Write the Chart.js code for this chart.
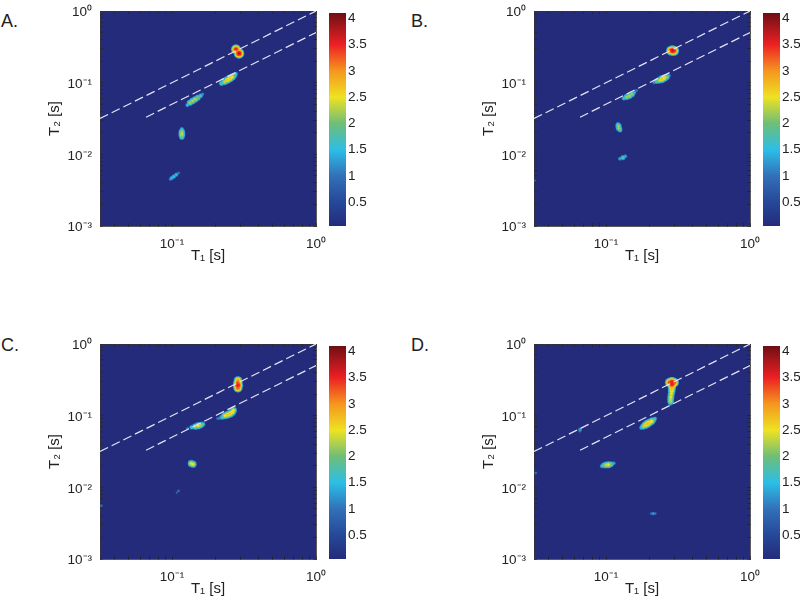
<!DOCTYPE html>
<html>
<head>
<meta charset="utf-8">
<style>
    html, body { margin: 0; padding: 0; background: #fff; width: 800px; height: 602px; overflow: hidden; }
    canvas { position: absolute; }
    .tag { position: absolute; font: 18px "Liberation Sans", sans-serif; color: #222; }
</style>
<script src="https://cdn.jsdelivr.net/npm/chart.js@4"></script>
</head>
<body>
<div class="tag" style="left:1px;top:11px">A.</div>
<div class="tag" style="left:411px;top:11px">B.</div>
<div class="tag" style="left:1px;top:335px">C.</div>
<div class="tag" style="left:411px;top:335px">D.</div>
<script>
// 轴刻度
const xTickValues = [0.1, 1];
const xTickLabels = ['10⁻¹', '10⁰'];
const xMinorTicks = [0.04, 0.05, 0.06, 0.07, 0.08, 0.09, 0.2, 0.3, 0.4, 0.5, 0.6, 0.7, 0.8, 0.9];
const yTickValues = [0.001, 0.01, 0.1, 1];
const yTickLabels = ['10⁻³', '10⁻²', '10⁻¹', '10⁰'];
const yMinorTicks = [0.002, 0.003, 0.004, 0.005, 0.006, 0.007, 0.008, 0.009,
    0.02, 0.03, 0.04, 0.05, 0.06, 0.07, 0.08, 0.09,
    0.2, 0.3, 0.4, 0.5, 0.6, 0.7, 0.8, 0.9];

// 色标
const colorbarTicks = [0.5, 1, 1.5, 2, 2.5, 3, 3.5, 4];
const colorbarLabels = ['0.5', '1', '1.5', '2', '2.5', '3', '3.5', '4'];
const colorStops = [0.05, 0.5, 1, 1.5, 2, 2.5, 3, 3.5, 4.1];
const colorRgb = [[36, 43, 122], [38, 72, 152], [50, 112, 185], [44, 190, 230], [110, 190, 120],
    [238, 226, 34], [245, 150, 30], [237, 32, 36], [110, 15, 20]];
const contourLevels = [0.75, 1, 1.25, 1.5, 1.75, 2, 2.25, 2.5, 2.75, 3, 3.25, 3.5, 3.75, 4];

// 虚线 T2 = T1, T2 = T1/2
const upperLineT1 = [0.0316, 1];
const upperLineT2 = [0.0316, 1];
const lowerLineT1 = [0.066, 1];
const lowerLineT2 = [0.033, 0.5];

// 各子图的峰 (T1, T2, 幅值)
const t1A = [0.278, 0.292, 0.221, 0.232, 0.242, 0.252, 0.262, 0.270, 0.278,
    0.128, 0.133, 0.139, 0.145, 0.151, 0.158, 0.163,
    0.117, 0.117, 0.117, 0.117, 0.117, 0.0975, 0.0995, 0.103, 0.107, 0.111];
const t2A = [0.292, 0.256, 0.098, 0.103, 0.109, 0.114, 0.120, 0.126, 0.132,
    0.0488, 0.0526, 0.0555, 0.0585, 0.0618, 0.0655, 0.069,
    0.0173, 0.0185, 0.0196, 0.0208, 0.0225, 0.0045, 0.00468, 0.0049, 0.0052, 0.0055];
const valuesA = [3.6, 3.8, 2.0, 2.5, 2.8, 2.8, 2.6, 2.2, 1.6,
    1.6, 2.3, 2.4, 2.4, 2.2, 1.8, 1.3,
    2.0, 2.4, 2.5, 2.3, 1.6, 1.3, 1.6, 1.7, 1.6, 1.2];

const t1B = [0.283, 0.290, 0.297, 0.215, 0.225, 0.235, 0.244, 0.254, 0.264, 0.274,
    0.133, 0.139, 0.145, 0.151, 0.157, 0.163,
    0.121, 0.122, 0.123, 0.125, 0.125, 0.131, 0.136, 0.032];
const t2B = [0.280, 0.280, 0.278, 0.1, 0.105, 0.108, 0.112, 0.116, 0.120, 0.125,
    0.0605, 0.063, 0.0655, 0.0687, 0.073, 0.078,
    0.0262, 0.0248, 0.0232, 0.0219, 0.0087, 0.00897, 0.00937, 0.0043];
const valuesB = [3.6, 3.8, 3.6, 1.3, 2.1, 2.5, 2.8, 2.7, 2.3, 1.4,
    1.7, 2.3, 2.4, 2.3, 1.6, 1.2,
    1.7, 2.3, 2.3, 1.9, 1.5, 1.9, 1.5, 1.0];

const t1C = [0.287, 0.287, 0.287, 0.287, 0.208, 0.215, 0.224, 0.233, 0.243, 0.253, 0.262, 0.267,
    0.128, 0.137, 0.145, 0.152, 0.158, 0.163, 0.136, 0.14, 0.111, 0.108, 0.0323];
const t2C = [0.31, 0.285, 0.265, 0.245, 0.0915, 0.0926, 0.096, 0.1, 0.103, 0.1067, 0.112, 0.1186,
    0.0665, 0.0687, 0.0705, 0.0724, 0.074, 0.0757, 0.0215, 0.021, 0.0089, 0.00843, 0.00555];
const valuesC = [3.1, 3.5, 3.7, 3.4, 1.2, 1.4, 2.0, 2.6, 2.8, 2.8, 2.7, 2.6,
    1.2, 1.8, 2.4, 2.6, 2.4, 2.0, 2.6, 2.6, 1.1, 1.0, 1.1];

const t1D = [0.277, 0.287, 0.297, 0.287, 0.287, 0.286, 0.286, 0.284, 0.282, 0.281, 0.281, 0.281,
    0.176, 0.182, 0.188, 0.194, 0.2, 0.207, 0.213, 0.219,
    0.0935, 0.0968, 0.1, 0.104, 0.108, 0.113, 0.0659, 0.0659, 0.206, 0.213, 0.22, 0.0325];
const t2D = [0.29, 0.295, 0.29, 0.275, 0.248, 0.23, 0.219, 0.2, 0.182, 0.168, 0.158, 0.15,
    0.068, 0.071, 0.074, 0.0773, 0.08, 0.0834, 0.087, 0.0908,
    0.0198, 0.0203, 0.0205, 0.0207, 0.021, 0.0216, 0.0638, 0.0605, 0.0043, 0.0043, 0.0043, 0.0158];
const valuesD = [3.5, 3.7, 3.5, 3.7, 3.0, 2.8, 2.7, 2.6, 2.6, 2.5, 2.4, 1.9,
    1.7, 2.4, 2.8, 2.9, 2.8, 2.7, 2.2, 1.6,
    1.6, 2.2, 2.5, 2.6, 2.2, 1.5, 1.5, 1.1, 1.1, 1.4, 1.1, 1.1];

const FONT = { family: '"Liberation Sans", Arial, sans-serif', size: 13.5 };
const INK = '#222';

function colorFor(v) {
    let i = 0;
    while (i < colorStops.length - 2 && v > colorStops[i + 1]) i++;
    const f = Math.min(1, Math.max(0, (v - colorStops[i]) / (colorStops[i + 1] - colorStops[i])));
    const a = colorRgb[i], b = colorRgb[i + 1];
    return 'rgb(' + [0, 1, 2].map(k => Math.round(a[k] + (b[k] - a[k]) * f)).join(',') + ')';
}

function addCanvas(left, top, width, height) {
    const canvas = document.createElement('canvas');
    canvas.width = width;
    canvas.height = height;
    canvas.style.left = left + 'px';
    canvas.style.top = top + 'px';
    document.body.appendChild(canvas);
    return canvas;
}

function logAxis(position, values, minor, labels, min, max, title) {
    const horizontal = position === 'top' || position === 'bottom';
    const mirror = position === 'top' || position === 'right';
    return {
        type: 'logarithmic',
        position: position,
        min: min,
        max: max,
        border: { display: true, color: '#333', width: 0.8 },
        grid: { drawOnChartArea: false, drawTicks: true, tickLength: -3, tickColor: '#222', tickWidth: 0.7 },
        ticks: {
            display: !mirror,
            autoSkip: false,
            maxRotation: 0,
            padding: horizontal ? 13 : 11,
            labelOffset: horizontal ? 0 : 1.5,
            color: INK,
            font: FONT,
            callback: function (v) {
                const i = values.findIndex(t => Math.abs(t - v) < t * 1e-6);
                return i >= 0 ? labels[i] : '';
            },
        },
        title: title ? { display: true, text: title, color: INK, font: { family: FONT.family, size: 15 }, padding: horizontal ? { top: 1 } : { top: 16 } } : { display: false },
        afterBuildTicks: function (scale) {
            scale.ticks = values.concat(minor).sort((a, b) => a - b).map(v => ({ value: v }));
        },
        afterFit: function (scale) {
            if (horizontal) scale.height = mirror ? 0 : 43;
            else scale.width = mirror ? 0 : 70;
            // 标签溢出不再挤压绘图区
            scale.paddingLeft = scale.paddingRight = scale.paddingTop = scale.paddingBottom = 0;
        },
    };
}

const plotBackground = {
    id: 'plotBackground',
    beforeDraw: function (chart) {
        const a = chart.chartArea;
        chart.ctx.save();
        chart.ctx.fillStyle = colorFor(0.05);
        chart.ctx.fillRect(a.left, a.top, a.width, a.height);
        chart.ctx.restore();
    },
};

function dashedLine(xs, ys) {
    return {
        data: xs.map((x, i) => ({ x: x, y: ys[i] })),
        showLine: true,
        borderColor: '#e4e4f4',
        borderWidth: 1.2,
        borderDash: [9, 4],
        pointRadius: 0,
    };
}

// 圆顶形截面,等值层半径随幅值增大
function contourRadius(v, level) {
    return 0.5 + 1.45 * v * Math.sqrt(1 - level / v);
}

function renderPanel(left, top, t1, t2, values) {
    const points = t1.map((x, i) => ({ x: x, y: t2[i], v: values[i] }));
    const datasets = [dashedLine(upperLineT1, upperLineT2), dashedLine(lowerLineT1, lowerLineT2)];
    // 高等值层在前(先入的数据集画在上面)
    contourLevels.slice().reverse().forEach(level => {
        datasets.push({
            data: points.filter(p => p.v >= level),
            showLine: false,
            clip: 0,
            pointRadius: ctx => (ctx.raw ? contourRadius(ctx.raw.v, level) : 0),
            pointBorderWidth: 0,
            pointBackgroundColor: colorFor(level),
        });
    });
    new Chart(addCanvas(left - 70, top - 11, 300, 269), {
        type: 'scatter',
        data: { datasets: datasets },
        plugins: [plotBackground],
        options: {
            responsive: false,
            animation: false,
            layout: { padding: { left: 0, right: 14, top: 11, bottom: 0 } },
            plugins: { legend: { display: false }, tooltip: { enabled: false } },
            scales: {
                x: logAxis('bottom', xTickValues, xMinorTicks, xTickLabels, 0.0316, 1, 'T₁ [s]'),
                y: logAxis('left', yTickValues, yMinorTicks, yTickLabels, 0.001, 1, 'T₂ [s]'),
                xTop: logAxis('top', xTickValues, xMinorTicks, xTickLabels, 0.0316, 1),
                yRight: logAxis('right', yTickValues, yMinorTicks, yTickLabels, 0.001, 1),
            },
        },
    });
}

function renderColorbar(left, top) {
    new Chart(addCanvas(left, top - 11, 60, 240), {
        type: 'bar',
        data: {
            labels: ['T'],
            datasets: [{
                data: [[colorStops[0], colorStops[colorStops.length - 1]]],
                barPercentage: 1,
                categoryPercentage: 1,
                backgroundColor: function (ctx) {
                    const area = ctx.chart.chartArea;
                    if (!area) return colorFor(1);
                    const g = ctx.chart.ctx.createLinearGradient(0, area.bottom, 0, area.top);
                    const span = colorStops[colorStops.length - 1] - colorStops[0];
                    colorStops.forEach(s => g.addColorStop((s - colorStops[0]) / span, colorFor(s)));
                    return g;
                },
            }],
        },
        options: {
            responsive: false,
            animation: false,
            layout: { padding: { left: 0, right: 0, top: 11, bottom: 14 } },
            plugins: { legend: { display: false }, tooltip: { enabled: false } },
            scales: {
                x: { display: false },
                y: {
                    position: 'right',
                    min: colorStops[0],
                    max: colorStops[colorStops.length - 1],
                    border: { display: false },
                    grid: { drawOnChartArea: false, tickLength: -3, tickColor: '#333', tickWidth: 0.7 },
                    ticks: {
                        padding: 5,
                        color: INK,
                        font: FONT,
                        autoSkip: false,
                        callback: v => colorbarLabels[colorbarTicks.indexOf(v)],
                    },
                    afterBuildTicks: function (scale) {
                        scale.ticks = colorbarTicks.map(v => ({ value: v }));
                    },
                    afterFit: function (scale) { scale.width = 43; },
                },
            },
        },
    });
}

renderPanel(100, 11, t1A, t2A, valuesA);
renderPanel(534, 11, t1B, t2B, valuesB);
renderPanel(100, 344, t1C, t2C, valuesC);
renderPanel(534, 344, t1D, t2D, valuesD);
renderColorbar(329, 11);
renderColorbar(763, 11);
renderColorbar(329, 344);
renderColorbar(763, 344);
</script>
</body>
</html>
